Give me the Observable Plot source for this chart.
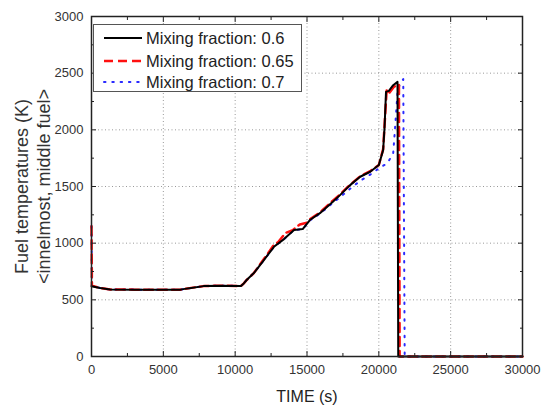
<!DOCTYPE html>
<html>
<head>
<meta charset="utf-8">
<script src="https://cdn.jsdelivr.net/npm/d3@7"></script>
<script src="https://cdn.jsdelivr.net/npm/@observablehq/plot@0.6"></script>
<style>
  html, body { margin: 0; padding: 0; background: #fff; }
  #wrap { position: relative; width: 542px; height: 409px; }
  #legend {
    position: absolute; left: 93px; top: 24px; width: 209px; height: 68px;
    border: 1px solid #555; background: #fff; box-sizing: border-box;
    font-family: "Liberation Sans", Arial, sans-serif; font-size: 16.5px; color: #222;
  }
  .row { position: absolute; left: 0; height: 22px; display: flex; align-items: center; }
  .row svg { margin-left: 9px; margin-right: 3px; }
</style>
</head>
<body>
<div id="wrap"></div>
<script>
// ---- data ----
const seriesNames = ["Mixing fraction: 0.6", "Mixing fraction: 0.65", "Mixing fraction: 0.7"];

const t06 = [0, 600, 1300, 3000, 6200, 6700, 7800, 9000, 10400, 10600, 10800, 11300, 12000, 12700, 13400, 14100, 14700, 15200, 15900, 16800, 17300, 18000, 18700, 19400, 20000, 20300, 20400, 20500, 20700, 21000, 21300, 21350, 30000];
const v06 = [620, 604, 592, 590, 590, 601, 621, 625, 622, 645, 675, 736, 851, 968, 1036, 1116, 1124, 1204, 1265, 1365, 1424, 1512, 1586, 1630, 1689, 1821, 2027, 2335, 2344, 2394, 2423, 0, 0];

const t065 = [0, 30, 600, 1300, 3000, 6200, 6700, 7800, 9000, 10400, 10600, 10800, 11300, 12000, 12700, 13000, 13500, 14000, 14500, 15000, 15200, 15900, 16800, 17300, 18000, 18700, 19400, 20000, 20300, 20450, 20550, 20750, 21050, 21400, 21450, 30000];
const v065 = [1150, 625, 604, 592, 590, 590, 601, 621, 625, 622, 645, 675, 736, 860, 985, 1010, 1090, 1115, 1165, 1180, 1210, 1270, 1375, 1430, 1515, 1590, 1635, 1690, 1830, 2150, 2360, 2330, 2380, 2400, 0, 0];

const t07 = [0, 30, 600, 1300, 3000, 6200, 6700, 7800, 9000, 10400, 10600, 10800, 11300, 12000, 12700, 13400, 14100, 14700, 15200, 15900, 16800, 17300, 18000, 18700, 19400, 20000, 20600, 21000, 21150, 21300, 21450, 21700, 21800, 30000];
const v07 = [1150, 625, 604, 592, 590, 590, 601, 621, 625, 622, 645, 675, 736, 851, 968, 1036, 1116, 1124, 1200, 1260, 1355, 1405, 1480, 1550, 1605, 1660, 1706, 1794, 2050, 2330, 2400, 2447, 0, 0];

const xMajor = [0, 5000, 10000, 15000, 20000, 25000, 30000];
const xMinor = [2500, 7500, 12500, 17500, 22500, 27500];
const yMajor = [0, 500, 1000, 1500, 2000, 2500, 3000];
const yMinor = [250, 750, 1250, 1750, 2250, 2750];
const xTitle = "TIME (s)";
const yTitle = "Fuel temperatures (K)\n<innelmost, middle fuel>";

// ---- build tables ----
const toRows = (ts, vs) => ts.map((t, i) => ({t, v: vs[i]}));
const d06 = toRows(t06, v06), d065 = toRows(t065, v065), d07 = toRows(t07, v07);

const styles = [
  {stroke: "#000000", strokeWidth: 2, strokeDasharray: null},
  {stroke: "#ff1010", strokeWidth: 2.5, strokeDasharray: "9,5"},
  {stroke: "#2a2aff", strokeWidth: 2, strokeDasharray: "1.5,6.8", strokeLinecap: "round"}
];

const fmt = d3.format("d");
const tickFont = 13;

const chart = Plot.plot({
  width: 542, height: 409,
  marginLeft: 91, marginRight: 20, marginTop: 16, marginBottom: 53,
  x: {domain: [0, 30000]},
  y: {domain: [0, 3000]},
  style: {fontFamily: "'Liberation Sans', Arial, sans-serif", color: "#333", background: "#fff"},
  marks: [
    Plot.gridX(xMajor.slice(1, -1), {stroke: "#999", strokeOpacity: 1, strokeDasharray: "1,2.5"}),
    Plot.gridY(yMajor.slice(1, -1), {stroke: "#999", strokeOpacity: 1, strokeDasharray: "1,2.5"}),
    Plot.line(d07, {x: "t", y: "v", ...styles[2]}),
    Plot.line(d065, {x: "t", y: "v", ...styles[1]}),
    Plot.line(d06, {x: "t", y: "v", ...styles[0]}),
    Plot.frame({stroke: "#222", strokeWidth: 1.5}),
    // inward ticks on all four sides
    Plot.axisX(xMajor, {anchor: "bottom", tickSize: -5, text: null, label: null, stroke: "#222"}),
    Plot.axisX(xMinor, {anchor: "bottom", tickSize: -3, text: null, label: null, stroke: "#222"}),
    Plot.axisX(xMajor, {anchor: "top", tickSize: -5, text: null, label: null, stroke: "#222"}),
    Plot.axisX(xMinor, {anchor: "top", tickSize: -3, text: null, label: null, stroke: "#222"}),
    Plot.axisY(yMajor, {anchor: "left", tickSize: -5, text: null, label: null, stroke: "#222"}),
    Plot.axisY(yMinor, {anchor: "left", tickSize: -3, text: null, label: null, stroke: "#222"}),
    Plot.axisY(yMajor, {anchor: "right", tickSize: -5, text: null, label: null, stroke: "#222"}),
    Plot.axisY(yMinor, {anchor: "right", tickSize: -3, text: null, label: null, stroke: "#222"}),
    // tick labels
    Plot.axisX(xMajor, {anchor: "bottom", tickSize: 0, tickPadding: 8, tickFormat: fmt, label: null, fontSize: tickFont, fill: "#333"}),
    Plot.axisY(yMajor, {anchor: "left", tickSize: 0, tickPadding: 8, tickFormat: fmt, label: null, fontSize: tickFont, fill: "#333"}),
    // axis titles
    Plot.text([xTitle], {text: d => d, frameAnchor: "bottom", dy: 40, lineAnchor: "middle", fontSize: 16, fill: "#222"}),
    Plot.text([yTitle], {text: d => d, frameAnchor: "left", dx: -59.5, rotate: -90, lineAnchor: "middle", textAnchor: "middle", lineHeight: 1.2, fontSize: 18, fill: "#333"})
  ]
});

const wrap = document.getElementById("wrap");
wrap.appendChild(chart);

// legend (inside plot, top-left)
const legend = document.createElement("div");
legend.id = "legend";
const rowTops = [2, 25, 46];
seriesNames.forEach((name, i) => {
  const s = styles[i];
  const row = document.createElement("div");
  row.className = "row";
  row.style.top = rowTops[i] + "px";
  row.innerHTML = `<svg width="40" height="10"><line x1="1" x2="39" y1="5" y2="5" stroke="${s.stroke}" stroke-width="${s.strokeWidth}" ${s.strokeDasharray ? `stroke-dasharray="${s.strokeDasharray}"` : ""} ${s.strokeLinecap ? `stroke-linecap="${s.strokeLinecap}"` : ""}/></svg><span>${name}</span>`;
  legend.appendChild(row);
});
wrap.appendChild(legend);
</script>
</body>
</html>
